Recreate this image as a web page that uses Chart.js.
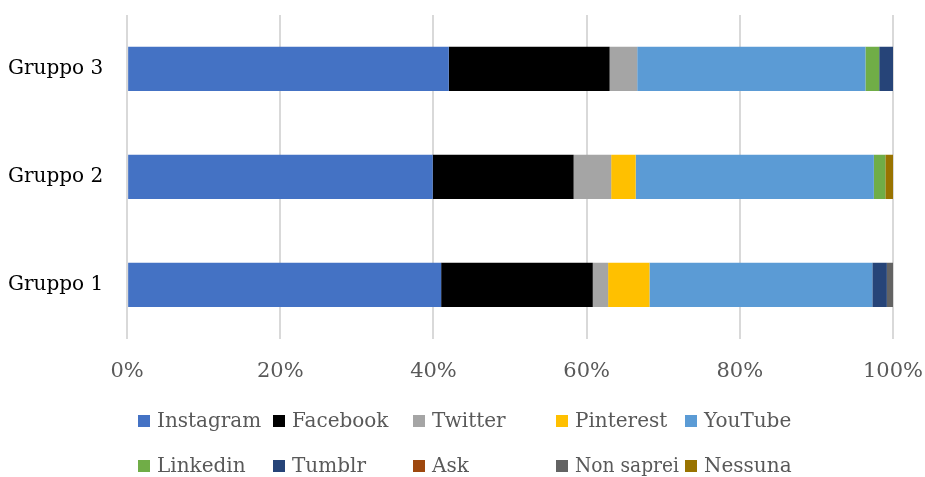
<!DOCTYPE html>
<html>
<head>
<meta charset="utf-8">
<script src="https://cdn.jsdelivr.net/npm/chart.js@4"></script>
<style>
  html, body { margin: 0; padding: 0; background: #fff; }
  #wrap { width: 925px; height: 477px; position: relative; }
</style>
</head>
<body>
<div id="wrap"><canvas id="socialChart" width="925" height="477"></canvas></div>
<script>
// gruppi, dall'alto in basso
const groups = ['Gruppo 3', 'Gruppo 2', 'Gruppo 1'];

// quote percentuali per gruppo (Gruppo 3, Gruppo 2, Gruppo 1)
const instagram = [42.0, 39.9, 41.0];
const facebook  = [21.0, 18.4, 19.8];
const twitter   = [3.6, 4.9, 2.0];
const pinterest = [0, 3.2, 5.4];
const youtube   = [29.8, 31.1, 29.1];
const linkedin  = [1.8, 1.5, 0];
const tumblr    = [1.8, 0, 1.9];
const ask       = [0, 0, 0];
const nonSaprei = [0, 0, 0.8];
const nessuna   = [0, 1.0, 0];

const xTicks = [0, 20, 40, 60, 80, 100];

const FONT = "'DejaVu Serif', serif";

const series = [
    ['Instagram', instagram, '#4472C4'],
    ['Facebook', facebook, '#000000'],
    ['Twitter', twitter, '#A5A5A5'],
    ['Pinterest', pinterest, '#FFC000'],
    ['YouTube', youtube, '#5B9BD5'],
    ['Linkedin', linkedin, '#70AD47'],
    ['Tumblr', tumblr, '#264478'],
    ['Ask', ask, '#9E480E'],
    ['Non saprei', nonSaprei, '#636363'],
    ['Nessuna', nessuna, '#997300']
];

// legenda a colonne fisse, come nell'originale
const gridLegend = {
    id: 'gridLegend',
    afterDraw(chart) {
        const ctx = chart.ctx;
        const cols = [138, 273, 413, 556, 685, 810];
        const rows = [421, 466];
        ctx.save();
        ctx.font = '20px ' + FONT;
        ctx.textBaseline = 'middle';
        chart.data.datasets.forEach(function (ds, i) {
            const c = i % 5;
            const x = cols[c];
            const y = rows[Math.floor(i / 5)];
            ctx.fillStyle = ds.backgroundColor;
            ctx.fillRect(x, y - 6, 12, 12);
            ctx.fillStyle = '#595959';
            ctx.fillText(ds.label, x + 19, y + 1, cols[c + 1] - x - 25);
        });
        ctx.restore();
    }
};

new Chart(document.getElementById('socialChart'), {
    type: 'bar',
    data: {
        labels: groups,
        datasets: series.map(function (s) {
            return {
                label: s[0],
                data: s[1],
                backgroundColor: s[2],
                borderWidth: 0,
                barPercentage: 1,
                categoryPercentage: 0.41
            };
        })
    },
    options: {
        indexAxis: 'y',
        responsive: false,
        animation: false,
        layout: { padding: { top: 15, right: 32, bottom: 93, left: 8 } },
        plugins: {
            legend: { display: false },
            tooltip: { enabled: false }
        },
        scales: {
            x: {
                stacked: true,
                min: 0,
                max: 100,
                afterBuildTicks: function (axis) {
                    axis.ticks = xTicks.map(function (v) { return { value: v }; });
                },
                border: { display: false },
                grid: {
                    color: '#d9d9d9',
                    lineWidth: 2,
                    drawTicks: true,
                    tickLength: 20,
                    tickColor: 'rgba(0,0,0,0)'
                },
                ticks: {
                    padding: 0,
                    color: '#595959',
                    font: { family: FONT, size: 21 },
                    callback: function (v) { return v + '%'; }
                }
            },
            y: {
                stacked: true,
                border: { display: false },
                grid: {
                    display: true,
                    drawOnChartArea: false,
                    drawTicks: true,
                    tickLength: 24,
                    tickColor: 'rgba(0,0,0,0)'
                },
                ticks: {
                    padding: 0,
                    color: '#000000',
                    font: { family: FONT, size: 20 }
                }
            }
        }
    },
    plugins: [gridLegend]
});
</script>
</body>
</html>
